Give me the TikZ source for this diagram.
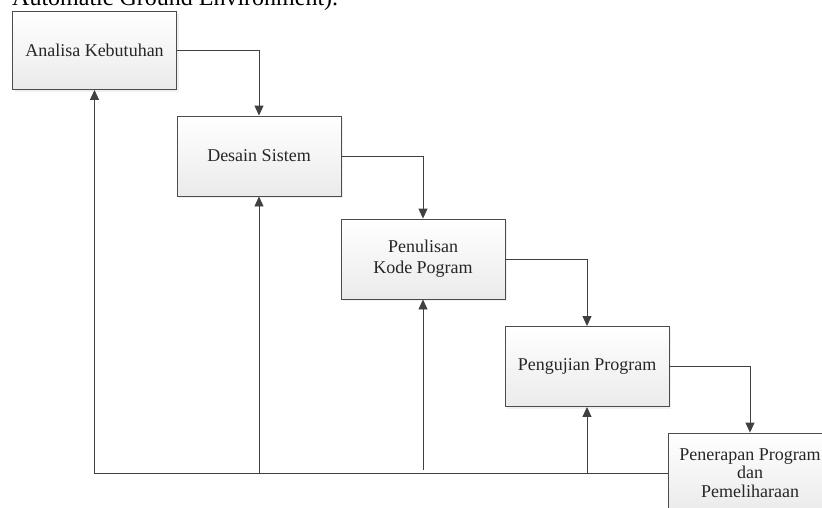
\documentclass[tikz,border=0pt]{standalone}
\usepackage{fontspec}
\setmainfont{Liberation Serif}
\usetikzlibrary{arrows.meta, shadows}

\tikzset{
  tahap/.style={draw=black!70, line width=0.9pt, top color=white, bottom color=black!8,
    minimum width=164, minimum height=80, align=center, text=black!85,
    font=\fontsize{18}{21}\selectfont,
    drop shadow={opacity=0.12, shadow xshift=2pt, shadow yshift=-2pt}},
  alur/.style={draw=black!75, line width=0.9pt, -{Triangle[length=10pt,width=9pt]}}
}

\begin{document}
\begin{tikzpicture}[x=1pt, y=-1pt]
\useasboundingbox (0,0) rectangle (822,507);

\node at (12,5.5) [anchor=base west, inner sep=0pt, font=\fontsize{24}{24}\selectfont] (judul) {Automatic Ground Environment).};

\node at (94.5,50.5) [tahap, minimum height=78] (analisa) {Analisa Kebutuhan};
\node at (259,156) [tahap] (desain) {Desain Sistem};
\node at (423,259) [tahap] (penulisan) {Penulisan\\Kode Pogram};
\node at (587,366.5) [tahap] (pengujian) {Pengujian Program};
\node at (750,473) [tahap, font=\fontsize{18}{18.5}\selectfont] (penerapan) {Penerapan Program\\dan\\Pemeliharaan};

\draw[alur] (analisa.east) -| (desain.north);
\draw[alur] (desain.east) -| (penulisan.north);
\draw[alur] (penulisan.east) -| (pengujian.north);
\draw[alur] (pengujian.east) -| (penerapan.north);

% jalur balik
\draw[alur] (penerapan.west) -| (analisa.south);
\draw[alur] (desain.south |- penerapan.west) -- (desain.south);
\draw[alur, shorten <=3pt] (penulisan.south |- penerapan.west) -- (penulisan.south);
\draw[alur] (pengujian.south |- penerapan.west) -- (pengujian.south);

\end{tikzpicture}
\end{document}
